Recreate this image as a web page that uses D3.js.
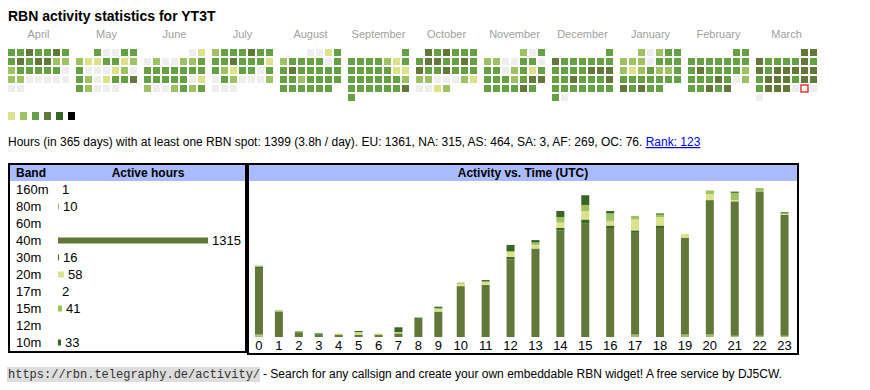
<!DOCTYPE html>
<html>
<head>
<meta charset="utf-8">
<script src="https://cdn.jsdelivr.net/npm/d3@7"></script>
<style>
  body { margin: 0; background: #fff; }
  svg text { font-family: "Liberation Sans", Arial, sans-serif; }
</style>
</head>
<body>
<script>
// calendar data, one digit per day (0 = no spot, 1..6 = activity level)
const months = ["April","May","June","July","August","September","October","November","December","January","February","March"];
const firstMonth = new Date(2024, 3, 1);
const dayLevels = [
  "3343343343442223333302200000" + "00",
  "30033" + "2113312" + "3000120" + "3201334" + "32000",
  "01" + "0200223" + "3333333" + "3333301" + "2002323",
  "2333433" + "3343331" + "3213303" + "0320002" + "000",
  "0013" + "2333303" + "3433333" + "3323333" + "333333",
  "3" + "3333213" + "3333311" + "3333332" + "3333334" + "3",
  "434333" + "3443343" + "4334333" + "2200021" + "0012",
  "203" + "2200330" + "3302313" + "3332344" + "333343",
  "3" + "4333333" + "3333444" + "3343334" + "3333333" + "30",
  "20233" + "2220333" + "2123223" + "3333333" + "43433",
  "33" + "3333333" + "3433332" + "3334302" + "33434",
  "44" + "4333343" + "4344444" + "3444344" + "3444000" + "0"
];
const today = {month: 11, day: 29};
const levelColors = ["#eeeeee", "#dbe28a", "#9dc163", "#66a044", "#62773a", "#386624", "#000000"];

// band table
const bands = ["160m","80m","60m","40m","30m","20m","17m","15m","12m","10m"];
const bandHours = [1, 10, null, 1315, 16, 58, 2, 41, null, 33];
const bandColors = ["#9dc163","#9dc163","#b8c878","#62773a","#386624","#dbe28a","#c4d27c","#9dc163","#7fa050","#386624"];

// activity per hour (UTC), per band
const hours = d3.range(24);
const hourly = {
  "160m": [1,0,0,0,0,0,0,0,0,0,0,0,0,0,0,0,0,0,0,0,0,0,0,0],
  "80m":  [1,0,0,0,0,0,0,0,0,0,0,0,0,0,0,0,0,2,0,2,2,1,1,1],
  "60m":  [0,0,0,0,0,0,0,0,0,0,0,0,0,0,0,0,0,0,0,0,0,0,0,0],
  "40m":  [55,21,4,2,2,2,2,3,15,21,42,43,64,72,88,94,90,84,90,80,111,111,119,100],
  "30m":  [1,0,0,1,0,0,0,0,0,0,0,0,2,1,2,3,2,2,2,0,0,0,0,0],
  "20m":  [0,0,0,0,1,2,1,1,0,2,2,2,4,3,4,7,3,9,7,3,5,1,0,1],
  "17m":  [0,0,0,0,0,0,0,0,0,0,0,0,0,0,1,0,1,0,0,0,0,0,0,0],
  "15m":  [1,1,1,0,0,0,0,0,0,1,1,1,1,2,4,5,6,3,2,0,3,6,3,0],
  "12m":  [0,0,0,0,0,0,0,0,0,0,0,0,0,0,0,0,0,0,0,0,0,0,0,0],
  "10m":  [0,0,0,0,0,1,0,4,1,1,0,1,5,2,5,8,2,0,1,0,0,1,0,1]
};

const statsText = "Hours (in 365 days) with at least one RBN spot: 1399 (3.8h / day). EU: 1361, NA: 315, AS: 464, SA: 3, AF: 269, OC: 76. ";
const rankText = "Rank: 123";

const W = 870, H = 390;
const svg = d3.select("body").append("svg").attr("width", W).attr("height", H);

svg.append("text").attr("x", 8).attr("y", 21)
   .style("font-size", "14px").style("font-weight", "bold")
   .text("RBN activity statistics for YT3T");

// ---- calendar ----
const monthX = d3.scaleLinear().domain([0, 1]).range([8, 76]);
const colX = d3.scaleLinear().domain([0, 1]).range([0, 9]);
const rowY = d3.scaleLinear().domain([0, 1]).range([49, 58]);
const cell = 7;

months.forEach((name, m) => {
  const mStart = d3.timeMonth.offset(firstMonth, m);
  const fwd = (mStart.getDay() + 6) % 7;
  const x0 = monthX(m);
  svg.append("text").attr("x", x0 + colX(7) / 2 - 1).attr("y", 38)
     .attr("text-anchor", "middle").style("font-size", "11px").style("fill", "#a0a0a0")
     .text(name);
  const days = dayLevels[m].split("").map((v, i) => ({d: i + 1, level: +v}));
  svg.append("g").selectAll("rect").data(days).enter().append("rect")
     .attr("x", d => x0 + colX((d.d - 1 + fwd) % 7))
     .attr("y", d => rowY(Math.floor((d.d - 1 + fwd) / 7)))
     .attr("width", cell).attr("height", cell)
     .style("fill", d => (m === today.month && d.d === today.day) ? "#fff" : levelColors[d.level])
     .style("stroke", d => (m === today.month && d.d === today.day) ? "#ee0000" : "none")
     .style("stroke-width", 1.2);
});

// legend squares
const legX = d3.scaleLinear().domain([0, 1]).range([8, 20]);
svg.append("g").selectAll("rect").data(levelColors.slice(1)).enter().append("rect")
   .attr("x", (d, i) => legX(i)).attr("y", 112).attr("width", 7).attr("height", 8)
   .style("fill", d => d);

// stats line
const stats = svg.append("text").attr("x", 8).attr("y", 146).style("font-size", "12px");
stats.append("tspan").text(statsText);
stats.append("tspan").style("fill", "#0000ee").style("text-decoration", "underline").text(rankText);

// ---- band table ----
const tbl = {x: 9, y: 164, w: 237, h: 188};
svg.append("rect").attr("x", tbl.x).attr("y", tbl.y).attr("width", tbl.w).attr("height", tbl.h)
   .style("fill", "#fff").style("stroke", "#000").style("stroke-width", 2);
svg.append("rect").attr("x", tbl.x + 1).attr("y", tbl.y + 1).attr("width", tbl.w - 2).attr("height", 16)
   .style("fill", "#aabbff");
svg.append("text").attr("x", 16).attr("y", 177).style("font-size", "12px").style("font-weight", "bold").text("Band");
svg.append("text").attr("x", 148).attr("y", 177).attr("text-anchor", "middle")
   .style("font-size", "12px").style("font-weight", "bold").text("Active hours");

const bandY = d3.scaleBand().domain(bands).range([181, 351]);
const bandW = d3.scaleLinear().domain([0, d3.max(bandHours)]).range([0, 150]);
const rowsG = svg.append("g").selectAll("g").data(bands).enter().append("g")
   .attr("transform", b => `translate(0, ${bandY(b) + bandY.bandwidth() / 2})`);
rowsG.append("text").attr("x", 16).attr("y", 4.5).style("font-size", "13px").text(b => b);
rowsG.append("rect").attr("x", 58).attr("y", -3)
   .attr("width", (b, i) => bandHours[i] ? Math.floor(bandW(bandHours[i])) : 0).attr("height", 6)
   .style("fill", (b, i) => bandColors[i]);
rowsG.append("text")
   .attr("x", (b, i) => 62 + (bandHours[i] ? Math.floor(bandW(bandHours[i])) : 0))
   .attr("y", 4.5).style("font-size", "13px")
   .text((b, i) => bandHours[i] == null ? "" : bandHours[i]);

// ---- activity vs time ----
const pnl = {x: 248, y: 164, w: 550, h: 190};
svg.append("rect").attr("x", pnl.x).attr("y", pnl.y).attr("width", pnl.w).attr("height", pnl.h)
   .style("fill", "#fff").style("stroke", "#000").style("stroke-width", 2);
svg.append("rect").attr("x", pnl.x + 1).attr("y", pnl.y + 1).attr("width", pnl.w - 2).attr("height", 16)
   .style("fill", "#aabbff");
svg.append("text").attr("x", pnl.x + pnl.w / 2).attr("y", 177).attr("text-anchor", "middle")
   .style("font-size", "12px").style("font-weight", "bold").text("Activity vs. Time (UTC)");

// column widths follow the label width, like an auto-sized table
const units = hours.map(h => String(h).length + 3);
const cum = d3.cumsum([0].concat(units));
const xU = d3.scaleLinear().domain([0, d3.sum(units)]).range([pnl.x + 1, pnl.x + pnl.w - 1]);
const xc = h => xU(cum[h] + units[h] / 2);

const rows = hours.map(h => {
  const r = {hour: h};
  bands.forEach(b => r[b] = hourly[b][h]);
  return r;
});
const series = d3.stack().keys(bands)(rows);
const yMax = d3.max(rows, r => d3.sum(bands, b => r[b]));
const y = d3.scaleLinear().domain([0, yMax]).range([337, 188]);
const barW = 8;

svg.append("g").selectAll("g").data(series).enter().append("g")
   .style("fill", s => bandColors[bands.indexOf(s.key)])
   .selectAll("rect").data(s => s).enter().append("rect")
   .attr("x", d => xc(d.data.hour) - barW / 2)
   .attr("y", d => y(d[1]))
   .attr("width", barW)
   .attr("height", d => Math.max(0, y(d[0]) - y(d[1])));

svg.append("g").selectAll("text").data(hours).enter().append("text")
   .attr("x", h => xc(h)).attr("y", 350).attr("text-anchor", "middle")
   .style("font-size", "13px").text(h => h);

// ---- footer ----
svg.append("rect").attr("x", 7).attr("y", 367).attr("width", 253).attr("height", 15).style("fill", "#dddddd");
svg.append("text").attr("x", 8).attr("y", 378)
   .style("font-family", "'Liberation Mono', monospace").style("font-size", "12px").style("fill", "#333")
   .text("https://rbn.telegraphy.de/activity/");
svg.append("text").attr("x", 263).attr("y", 378).style("font-size", "12px")
   .text("- Search for any callsign and create your own embeddable RBN widget! A free service by DJ5CW.");
</script>
</body>
</html>
